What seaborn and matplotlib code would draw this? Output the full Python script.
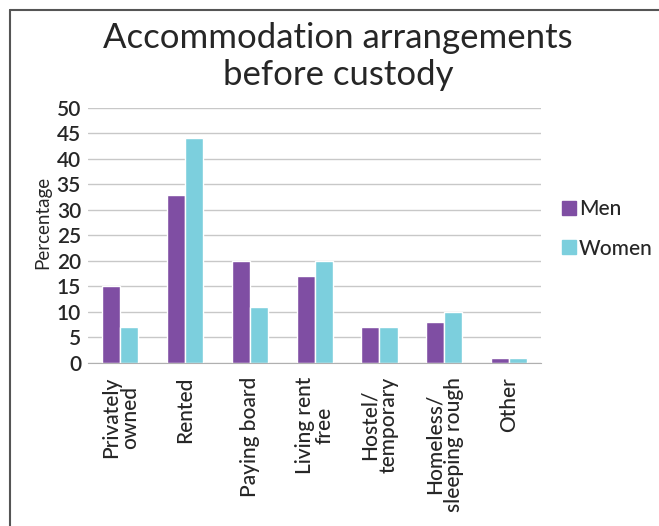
import numpy as np
import pandas as pd
import matplotlib
matplotlib.use("Agg")
import matplotlib.pyplot as plt
import seaborn as sns
from matplotlib.lines import Line2D

# --- data ---
categories = ["Privately\nowned", "Rented", "Paying board", "Living rent\nfree",
              "Hostel/\ntemporary", "Homeless/\nsleeping rough", "Other"]
men = [15, 33, 20, 17, 7, 8, 1]
women = [7, 44, 11, 20, 7, 10, 1]
groups = ["Men", "Women"]
colors = ["#7f4ea3", "#7ccfdd"]

df = pd.DataFrame({
    "category": categories * 2,
    "value": men + women,
    "group": [groups[0]] * len(men) + [groups[1]] * len(women),
})

sns.set_style("white")
plt.rcParams["font.family"] = ["Lato", "DejaVu Sans"]

fig = plt.figure(figsize=(6.59, 5.26), dpi=100)
ax = fig.add_axes([0.1335, 0.310, 0.688, 0.485])

sns.barplot(data=df, x="category", y="value", hue="group", palette=colors,
            width=0.56, saturation=1, ax=ax, legend=False)

ax.set_ylim(0, 50)
ax.set_yticks(range(0, 51, 5))
ax.yaxis.grid(True, color="#c8c8c8", linewidth=1)
ax.set_axisbelow(True)
for s in ["top", "right", "left"]:
    ax.spines[s].set_visible(False)
ax.spines["bottom"].set_color("#b0b0b0")
ax.set_xlim(-0.5, len(categories) - 0.5)

# tick marks between categories on the x axis
ax.set_xticks(np.arange(len(categories)))
ax.set_xticks(np.arange(-0.5, len(categories)), minor=True)
ax.tick_params(axis="x", which="major", length=0, pad=10)
ax.tick_params(axis="x", which="minor", length=4, color="#b0b0b0")
ax.set_xticklabels(categories, rotation=90, fontsize=15, va="top",
                   ha="center", linespacing=0.95, fontweight="medium")
for lbl in ax.get_yticklabels():
    lbl.set_fontweight("semibold")
ax.tick_params(axis="y", length=0, labelsize=15, pad=5)
ax.set_xlabel("")
ax.set_ylabel("Percentage", fontsize=13.5, labelpad=1)
ax.yaxis.set_label_coords(-0.082, 0.55)

handles = [Line2D([0], [0], marker="s", linestyle="", markersize=10,
                  markerfacecolor=c, markeredgecolor=c) for c in colors]
fig.legend(handles, groups, loc="center left", bbox_to_anchor=(0.822, 0.565),
           frameon=False, handletextpad=0.1, labelspacing=0.95,
           handlelength=0.8, prop={"weight": "medium", "size": 15})

fig.text(0.513, 0.893, "Accommodation arrangements\nbefore custody",
         ha="center", va="center", fontsize=25, linespacing=1.2)

# frame lines of the original slide
fig.add_artist(Line2D([10 / 659, 10 / 659], [0, 1 - 10 / 526],
                      transform=fig.transFigure, color="#555555", lw=1.5))
fig.add_artist(Line2D([10 / 659, 1], [1 - 10 / 526, 1 - 10 / 526],
                      transform=fig.transFigure, color="#555555", lw=1.5))

fig.savefig("out.png", dpi=100)
